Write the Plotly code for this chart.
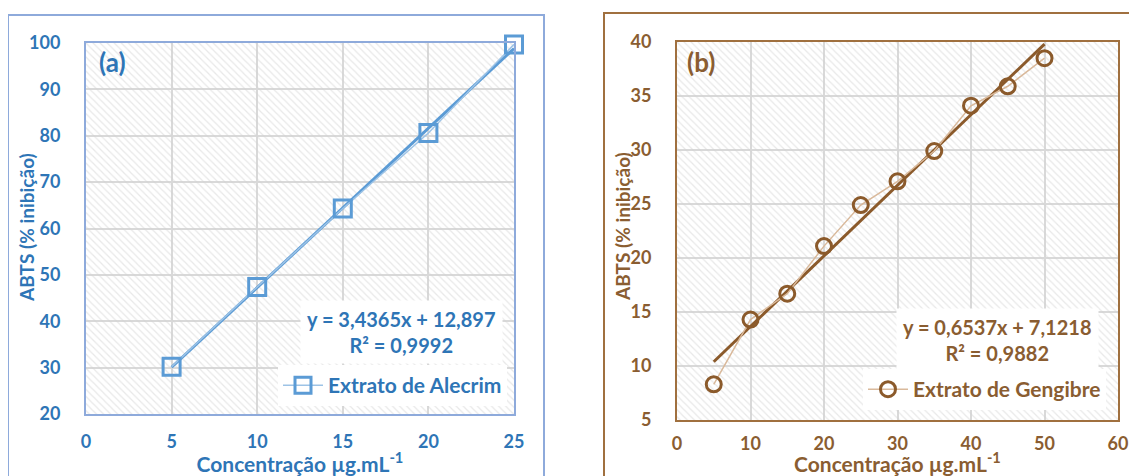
import numpy as np
import plotly.graph_objects as go

# ---- data ----
conc_a = [5, 10, 15, 20, 25]
abts_a = [30.2, 47.4, 64.3, 80.6, 99.7]
slope_a, icpt_a = 3.4365, 12.897
eq_a = "y = 3,4365x + 12,897<br>R² = 0,9992"
name_a = "Extrato de Alecrim"

conc_b = [5, 10, 15, 20, 25, 30, 35, 40, 45, 50]
abts_b = [8.3, 14.3, 16.7, 21.1, 24.9, 27.1, 29.9, 34.1, 35.9, 38.5]
slope_b, icpt_b = 0.6537, 7.1218
eq_b = "y = 0,6537x + 7,1218<br>R² = 0,9882"
name_b = "Extrato de Gengibre"

xticks_a = [0, 5, 10, 15, 20, 25]
yticks_a = [20, 30, 40, 50, 60, 70, 80, 90, 100]
xticks_b = [0, 10, 20, 30, 40, 50, 60]
yticks_b = [5, 10, 15, 20, 25, 30, 35, 40]

xtitle = "Concentração µg.mL<sup>-1</sup>"
ytitle = "ABTS (% inibição)"

# ---- style ----
OFF = 8  # page body margin
W, H = 1137 - OFF, 476 - OFF
FONT = "Lato"
FS = 20
BLUE_T = "#2E75B6"
BLUE = "#5B9BD5"
BLUE_L = "#9DC3E6"
BLUE_F = "#8EAADB"
BROWN_T = "#8A5D31"
BROWN = "#8B5A2B"
BROWN_L = "#D9B99B"
BROWN_F = "#A0703F"
GRID = "#D9D9D9"

def px(x):
    return (x - OFF) / W

def py(y):
    return 1 - (y - OFF) / H

fig = go.Figure()

def hatch(xr, yr, xa, ya):
    fig.add_trace(go.Scatter(
        x=[xr[0], xr[1], xr[1], xr[0], xr[0]],
        y=[yr[0], yr[0], yr[1], yr[1], yr[0]],
        mode="lines", line=dict(width=0), fill="toself",
        fillcolor="rgba(0,0,0,0)",
        fillpattern=dict(shape="\\", fgcolor="#D2D2D2", bgcolor="rgba(255,255,255,0)",
                         size=5, solidity=0.25, fillmode="overlay"),
        hoverinfo="skip", showlegend=False, xaxis=xa, yaxis=ya))

hatch([0, 25], [20, 100], "x", "y")
hatch([0, 60], [5, 40], "x2", "y2")

# panel a
xa_arr = np.array(conc_a, dtype=float)
fig.add_trace(go.Scatter(x=[xa_arr.min(), xa_arr.max()],
                         y=[slope_a * xa_arr.min() + icpt_a, slope_a * xa_arr.max() + icpt_a],
                         mode="lines", line=dict(color=BLUE, width=3), cliponaxis=False,
                         showlegend=False, xaxis="x", yaxis="y"))
fig.add_trace(go.Scatter(x=conc_a, y=abts_a, mode="lines+markers", name=name_a,
                         line=dict(color=BLUE_L, width=1.5), cliponaxis=False,
                         marker=dict(symbol="square-open", size=17, color=BLUE, line=dict(width=3, color=BLUE)),
                         xaxis="x", yaxis="y", legend="legend"))

# panel b
xb_arr = np.array(conc_b, dtype=float)
fig.add_trace(go.Scatter(x=[xb_arr.min(), xb_arr.max()],
                         y=[slope_b * xb_arr.min() + icpt_b, slope_b * xb_arr.max() + icpt_b],
                         mode="lines", line=dict(color=BROWN, width=3), cliponaxis=False,
                         showlegend=False, xaxis="x2", yaxis="y2"))
fig.add_trace(go.Scatter(x=conc_b, y=abts_b, mode="lines+markers", name=name_b,
                         line=dict(color=BROWN_L, width=1.5), cliponaxis=False,
                         marker=dict(symbol="circle-open", size=15, color=BROWN, line=dict(width=3, color=BROWN)),
                         xaxis="x2", yaxis="y2", legend="legend2"))

def f(c, s=FS):
    return dict(family=FONT, size=s, color=c, weight="bold")

common_ax = dict(showgrid=True, gridcolor=GRID, gridwidth=2, zeroline=False,
                 mirror=True, showline=True, linewidth=2, ticks="", automargin=False)

fig.update_layout(
    width=W, height=H, margin=dict(l=0, r=0, t=0, b=0),
    paper_bgcolor="white", plot_bgcolor="white",
    xaxis=dict(domain=[px(86), px(514)], range=[0, 25], tickvals=xticks_a, linecolor=BLUE_F,
               tickfont=f(BLUE_T, 18), anchor="y", ticklabelstandoff=10,
               title=dict(text=xtitle, font=f(BLUE_T, 21), standoff=0), **common_ax),
    yaxis=dict(domain=[py(414), py(43)], range=[20, 100], tickvals=yticks_a, linecolor=BLUE_F,
               tickfont=f(BLUE_T, 18), anchor="x", ticklabelstandoff=20, **common_ax),
    xaxis2=dict(domain=[px(677), px(1118)], range=[0, 60], tickvals=xticks_b, linecolor=BROWN_F,
                tickfont=f(BROWN_T, 18), anchor="y2", ticklabelstandoff=6,
                title=dict(text=xtitle, font=f(BROWN_T, 21), standoff=0), **common_ax),
    yaxis2=dict(domain=[py(420), py(42)], range=[5, 40], tickvals=yticks_b, linecolor=BROWN_F,
                tickfont=f(BROWN_T, 18), anchor="x2", ticklabelstandoff=20, **common_ax),
    legend=dict(x=px(507), y=py(406), xanchor="right", yanchor="bottom", bgcolor="white",
                font=f(BLUE_T, 21), itemwidth=40, tracegroupgap=0),
    legend2=dict(x=px(1106), y=py(410), xanchor="right", yanchor="bottom", bgcolor="white",
                 font=f(BROWN_T, 21), itemwidth=40),
    showlegend=True,
)

# y-axis titles
fig.add_annotation(text=ytitle, xref="paper", yref="paper", x=px(26), y=py(228),
                   xanchor="center", yanchor="middle", textangle=-90,
                   showarrow=False, font=f(BLUE_T, 19))
fig.add_annotation(text=ytitle, xref="paper", yref="paper", x=px(622), y=py(227),
                   xanchor="center", yanchor="middle", textangle=-90,
                   showarrow=False, font=f(BROWN_T, 19))

fig.add_annotation(text=eq_a, xref="paper", yref="paper", x=px(401), y=py(332),
                   xanchor="center", yanchor="middle",
                   showarrow=False, align="center", bgcolor="white", borderpad=6, font=f(BLUE_T))
fig.add_annotation(text=eq_b, xref="paper", yref="paper", x=px(997), y=py(340),
                   xanchor="center", yanchor="middle",
                   showarrow=False, align="center", bgcolor="white", borderpad=6, font=f(BROWN_T))
fig.add_annotation(text="(a)", xref="paper", yref="paper", x=px(112), y=py(62),
                   xanchor="center", yanchor="middle",
                   showarrow=False, font=f(BLUE_T, 26))
fig.add_annotation(text="(b)", xref="paper", yref="paper", x=px(701), y=py(62),
                   xanchor="center", yanchor="middle",
                   showarrow=False, font=f(BROWN_T, 26))

# outer frames
fig.add_shape(type="rect", xref="paper", yref="paper", x0=px(8), x1=px(544), y0=-0.2, y1=py(15),
              line=dict(color=BLUE_F, width=2))
fig.add_shape(type="rect", xref="paper", yref="paper", x0=px(604), x1=1.2, y0=-0.2, y1=py(13),
              line=dict(color=BROWN_F, width=2))

fig.write_html("out.html")
